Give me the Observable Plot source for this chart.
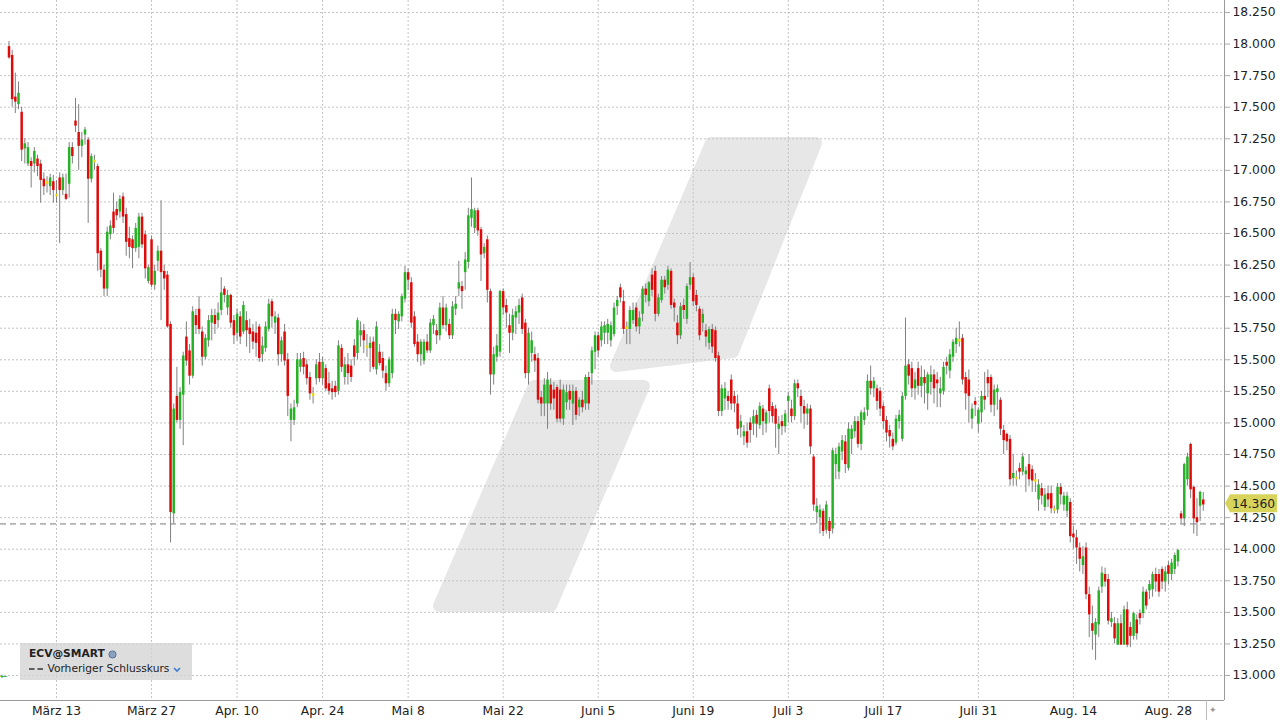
<!DOCTYPE html>
<html><head><meta charset="utf-8">
<script src="https://cdn.jsdelivr.net/npm/d3@7"></script>
<script src="https://cdn.jsdelivr.net/npm/@observablehq/plot@0.6"></script>
<style>
html,body{margin:0;padding:0;background:#fff;}
#wrap{position:relative;width:1280px;height:720px;overflow:hidden;font-family:"DejaVu Sans",Verdana,sans-serif;}
#legend{position:absolute;left:20px;top:643px;width:172px;height:37px;background:rgba(212,212,212,0.78);color:#222;font-size:10.7px;}
#legend .l1{position:absolute;left:9px;top:4px;font-weight:bold;white-space:nowrap;}
#legend .l2{position:absolute;left:9px;top:19px;white-space:nowrap;}
#legend svg{vertical-align:middle;}
.glyph{position:absolute;font-size:9px;}
</style></head><body><div id="wrap"></div>
<script>
// candle index 0 = first bar (3 bars per trading day, Mar 6 2023 .. Sep 1 2023)
const open = [
 17.97,17.90,17.57,17.53,17.45,17.18,17.06,17.06,17.06,17.08,17.04,16.92,16.90,16.88,16.90,
 16.80,16.93,16.85,16.80,16.90,17.17,17.38,17.29,17.20,17.29,17.23,16.94,17.07,17.02,16.35,16.20,16.07,16.50,16.66,16.68,16.68,16.78,16.64,16.45,16.44,16.39,16.40,16.62,16.48,16.13,
 16.44,16.10,16.29,16.35,16.19,16.16,15.77,14.29,15.20,15.03,15.23,15.67,15.56,15.38,15.84,15.89,15.71,15.53,15.66,15.80,15.84,15.82,15.90,16.05,15.92,16.00,15.80,
 15.72,15.83,15.73,15.80,15.74,15.71,15.70,15.75,15.55,15.60,15.75,15.95,15.80,15.82,15.55,15.71,15.49,15.03,15.03,15.16,15.45,15.50,15.45,15.35,15.22,15.36,15.47,
 15.36,15.42,15.30,15.26,15.28,15.26,15.58,15.37,15.45,15.44,15.60,15.56,15.70,15.72,15.60,15.60,15.63,15.43,15.55,15.50,15.38,15.32,15.40,15.85,15.81,15.85,15.99,
 16.18,16.10,15.83,15.63,15.55,15.50,15.63,15.58,15.78,15.72,15.70,15.90,15.78,15.77,15.70,15.91,16.07,16.07,16.20,16.28,16.63,16.55,16.67,16.52,16.35,16.44,16.03,15.39,15.53,15.57,
 16.03,15.92,15.76,15.72,15.84,15.88,15.98,15.78,15.40,15.56,15.53,15.50,15.19,15.16,15.16,15.29,15.25,15.27,15.25,15.04,15.17,15.24,15.16,15.24,15.13,15.17,15.16,15.35,15.40,15.57,
 15.68,15.66,15.72,15.72,15.66,15.71,15.93,16.06,15.95,15.75,15.75,15.82,15.90,15.77,15.87,16.05,15.97,16.16,16.19,15.87,15.98,16.12,16.10,16.19,15.94,15.78,15.70,15.92,15.83,16.10,
 16.14,16.00,15.89,15.80,15.72,15.64,15.73,15.72,15.52,15.10,15.20,15.20,15.33,15.20,15.14,14.97,14.90,14.92,14.99,15.00,15.05,14.99,15.10,15.00,15.26,15.12,15.10,14.96,15.00,14.98,
 15.18,15.10,15.06,15.30,15.20,15.12,15.08,15.10,14.72,14.30,14.26,14.29,14.16,14.21,14.17,14.68,14.62,14.78,14.84,14.65,14.88,14.94,15.00,14.84,15.03,15.11,15.32,15.28,15.26,15.24,
 15.12,15.01,14.93,14.86,14.85,15.02,14.88,15.22,15.45,15.42,15.28,15.42,15.30,15.35,15.24,15.33,15.37,15.33,15.24,15.26,15.47,15.42,15.53,15.63,15.65,15.66,15.35,15.33,15.04,
 15.16,15.00,15.09,15.20,15.35,15.35,15.15,15.25,15.17,14.93,14.90,14.86,14.57,14.56,14.63,14.62,14.60,14.66,14.62,14.54,14.40,14.47,14.34,14.43,14.43,14.31,14.32,14.48,14.36,14.31,
 14.36,14.11,14.08,14.00,13.88,14.00,13.63,13.40,13.33,13.41,13.71,13.79,13.75,13.43,13.40,13.25,13.40,13.25,13.51,13.37,13.32,13.43,13.48,13.50,13.65,13.68,13.69,13.79,13.79,13.83,
 13.75,13.86,13.81,13.85,13.91,14.27,14.25,14.56,14.82,14.48,14.24,14.35,14.38
];
const high = [
 18.02,17.95,17.77,17.70,17.50,17.25,17.22,17.10,17.18,17.12,17.08,16.98,16.95,16.97,16.96,
 16.92,16.98,16.97,16.97,17.22,17.22,17.57,17.52,17.30,17.34,17.26,17.13,17.12,17.05,16.38,16.25,16.55,16.60,16.82,16.75,16.80,16.82,16.70,16.55,16.48,16.58,16.66,16.66,16.52,16.25,
 16.48,16.25,16.40,16.76,16.25,16.20,15.80,15.15,15.44,15.28,15.56,15.80,15.62,15.92,15.90,16.00,15.76,15.70,15.85,15.90,15.90,15.95,16.15,16.08,16.05,16.02,15.85,
 15.90,15.88,15.96,15.88,15.82,15.78,15.80,15.78,15.68,15.80,15.98,15.98,15.88,15.86,15.68,15.78,15.55,15.15,15.18,15.55,15.55,15.56,15.50,15.40,15.28,15.50,15.55,
 15.52,15.46,15.40,15.33,15.33,15.65,15.62,15.52,15.55,15.50,15.66,15.83,15.80,15.78,15.70,15.68,15.68,15.80,15.62,15.56,15.45,15.52,15.90,15.90,15.88,16.02,16.24,
 16.22,16.15,15.88,15.70,15.66,15.66,15.70,15.82,15.85,15.78,15.95,16.00,15.94,15.82,15.96,16.00,16.28,16.12,16.35,16.70,16.94,16.70,16.70,16.55,16.42,16.48,16.06,15.60,15.70,16.05,
 16.06,15.98,15.86,15.90,15.92,15.98,16.02,15.82,15.75,15.72,15.60,15.55,15.25,15.35,15.40,15.35,15.32,15.30,15.34,15.30,15.30,15.30,15.30,15.28,15.20,15.25,15.38,15.40,15.60,15.72,
 15.72,15.80,15.80,15.82,15.80,15.95,16.00,16.10,16.05,15.80,15.92,15.95,15.95,15.88,16.08,16.10,16.12,16.22,16.24,16.02,16.16,16.16,16.24,16.22,15.98,15.85,15.95,15.98,16.10,16.27,
 16.18,16.05,15.92,15.90,15.78,15.76,15.78,15.76,15.56,15.30,15.32,15.25,15.38,15.25,15.22,15.06,14.98,15.00,15.04,15.10,15.10,15.16,15.14,15.10,15.30,15.16,15.14,15.05,15.06,15.10,
 15.24,15.18,15.34,15.34,15.26,15.18,15.15,15.14,14.75,14.40,14.35,14.32,14.38,14.25,14.80,14.80,14.84,14.90,14.90,15.00,14.98,15.05,15.05,15.10,15.12,15.38,15.45,15.36,15.30,15.28,
 15.16,15.05,14.98,14.92,15.06,15.10,15.24,15.83,15.50,15.48,15.40,15.48,15.45,15.42,15.40,15.45,15.42,15.40,15.36,15.48,15.52,15.58,15.66,15.75,15.80,15.70,15.40,15.42,15.15,
 15.20,15.12,15.25,15.40,15.42,15.38,15.30,15.30,15.20,14.98,14.92,14.90,14.75,14.62,14.68,14.76,14.65,14.75,14.66,14.60,14.55,14.52,14.48,14.50,14.50,14.34,14.52,14.52,14.45,14.45,
 14.40,14.18,14.15,14.05,14.02,14.05,13.70,13.55,13.45,13.70,13.86,13.85,13.80,13.50,13.46,13.45,13.48,13.55,13.58,13.42,13.50,13.48,13.52,13.70,13.68,13.75,13.82,13.85,13.84,13.86,
 13.86,13.90,13.92,13.97,14.00,14.30,14.68,14.76,14.84,14.50,14.40,14.46,14.45
];
const low = [
 17.88,17.50,17.45,17.48,17.07,17.05,17.03,16.86,16.98,16.95,16.74,16.80,16.82,16.80,16.74,
 16.74,16.42,16.80,16.76,16.78,17.05,17.30,17.00,17.10,17.20,16.58,16.90,17.00,16.20,16.15,16.00,16.00,16.45,16.50,16.60,16.62,16.58,16.32,16.30,16.22,16.35,16.30,16.38,16.14,16.10,
 16.07,16.05,16.20,15.81,16.05,15.75,14.05,14.20,15.00,14.95,14.82,15.45,15.30,15.35,15.70,15.70,15.45,15.50,15.60,15.65,15.70,15.75,15.85,15.95,15.85,15.75,15.62,
 15.65,15.62,15.70,15.60,15.55,15.58,15.52,15.48,15.48,15.56,15.72,15.75,15.70,15.45,15.48,15.45,15.05,14.85,14.98,15.12,15.40,15.38,15.30,15.18,15.15,15.30,15.32,
 15.30,15.25,15.22,15.18,15.20,15.22,15.40,15.30,15.30,15.32,15.45,15.50,15.60,15.55,15.52,15.40,15.42,15.38,15.45,15.35,15.25,15.28,15.35,15.70,15.74,15.80,15.95,
 16.05,15.75,15.60,15.48,15.45,15.46,15.55,15.55,15.70,15.62,15.65,15.74,15.72,15.66,15.66,15.85,16.00,15.90,16.05,16.22,16.55,16.50,16.48,16.12,16.30,15.95,15.22,15.30,15.48,15.52,
 15.85,15.75,15.55,15.65,15.70,15.78,15.70,15.35,15.30,15.48,15.40,15.15,15.05,15.05,14.95,15.10,15.10,15.00,15.00,14.98,15.10,15.10,14.98,15.02,15.05,15.08,15.10,15.10,15.30,15.42,
 15.52,15.60,15.62,15.62,15.60,15.68,15.85,15.95,15.70,15.62,15.62,15.78,15.72,15.70,15.80,15.95,15.92,16.00,15.80,15.84,15.95,16.02,16.05,15.90,15.80,15.62,15.66,15.82,15.78,16.05,
 15.92,15.88,15.65,15.72,15.60,15.58,15.55,15.48,15.05,15.05,15.10,15.10,15.10,15.08,14.90,14.88,14.82,14.80,14.84,14.90,14.88,14.95,14.90,14.92,15.00,15.00,14.80,14.75,14.90,14.92,
 15.00,15.00,15.02,15.20,15.00,14.95,14.98,14.75,14.30,14.20,14.12,14.10,14.12,14.08,14.12,14.55,14.55,14.70,14.60,14.62,14.75,14.88,14.80,14.78,14.98,15.05,15.22,15.20,15.10,15.05,
 14.95,14.85,14.80,14.78,14.82,14.95,14.85,15.18,15.30,15.20,15.18,15.22,15.20,15.15,15.10,15.22,15.15,15.12,15.12,15.22,15.38,15.35,15.48,15.55,15.60,15.30,15.10,15.00,14.95,
 15.05,14.92,15.00,15.10,15.20,15.08,15.05,15.10,14.90,14.75,14.78,14.50,14.50,14.50,14.55,14.58,14.45,14.50,14.45,14.45,14.30,14.35,14.30,14.33,14.28,14.28,14.28,14.35,14.30,14.25,
 14.05,14.00,13.88,13.82,13.80,13.60,13.30,13.20,13.12,13.30,13.65,13.70,13.40,13.38,13.25,13.24,13.24,13.24,13.22,13.22,13.28,13.28,13.40,13.45,13.52,13.60,13.62,13.66,13.62,13.68,
 13.66,13.72,13.75,13.80,13.86,14.20,14.18,14.50,14.40,14.12,14.10,14.22,14.30
];
const close = [
 17.90,17.57,17.55,17.60,17.17,17.20,17.17,17.04,17.14,17.04,16.93,16.88,16.90,16.93,16.85,
 16.80,16.85,16.93,16.78,17.17,17.12,17.36,17.20,17.23,17.31,16.94,17.10,17.07,16.35,16.22,16.07,16.50,16.55,16.55,16.65,16.76,16.64,16.44,16.40,16.39,16.53,16.62,16.42,16.23,16.22,
 16.10,16.19,16.35,16.20,16.15,15.77,14.30,15.10,15.03,15.23,15.52,15.50,15.38,15.87,15.78,15.75,15.53,15.66,15.80,15.84,15.79,15.86,16.02,16.02,16.00,15.80,15.70,
 15.85,15.69,15.92,15.74,15.71,15.65,15.64,15.52,15.60,15.75,15.93,15.85,15.83,15.55,15.64,15.50,15.22,15.10,15.11,15.49,15.49,15.45,15.36,15.24,15.22,15.45,15.36,
 15.47,15.28,15.26,15.25,15.25,15.60,15.45,15.45,15.40,15.37,15.53,15.80,15.72,15.66,15.60,15.62,15.45,15.75,15.48,15.42,15.32,15.49,15.85,15.82,15.85,15.99,16.18,
 16.14,15.80,15.63,15.55,15.63,15.63,15.58,15.78,15.81,15.70,15.90,15.78,15.90,15.70,15.91,15.93,16.10,16.05,16.28,16.63,16.68,16.67,16.53,16.34,16.38,16.06,15.39,15.53,15.60,16.03,
 15.92,15.88,15.72,15.84,15.87,15.92,15.75,15.40,15.70,15.64,15.50,15.19,15.16,15.29,15.33,15.16,15.20,15.04,15.04,15.25,15.23,15.19,15.24,15.07,15.17,15.13,15.35,15.16,15.56,15.68,
 15.58,15.75,15.76,15.77,15.76,15.90,15.96,16.00,15.75,15.75,15.88,15.88,15.77,15.82,16.05,16.02,16.10,16.06,15.87,15.98,16.12,16.08,16.20,15.94,15.92,15.70,15.91,15.90,16.07,16.14,
 15.97,15.94,15.70,15.85,15.69,15.73,15.61,15.52,15.10,15.26,15.26,15.18,15.16,15.16,14.96,15.00,14.92,14.85,14.95,15.04,15.00,15.12,15.02,15.07,15.10,15.06,15.00,14.98,14.98,15.06,
 15.20,15.06,15.30,15.28,15.14,15.08,15.10,14.82,14.36,14.33,14.30,14.15,14.34,14.15,14.77,14.74,14.80,14.85,14.68,14.94,14.94,15.00,14.84,15.07,15.07,15.32,15.28,15.32,15.18,15.12,
 15.02,14.93,14.90,14.82,15.02,15.05,15.20,15.44,15.38,15.28,15.33,15.30,15.35,15.32,15.37,15.37,15.28,15.32,15.26,15.43,15.46,15.53,15.63,15.66,15.65,15.35,15.24,15.22,15.10,
 15.15,15.09,15.20,15.19,15.32,15.15,15.25,15.26,14.96,14.87,14.86,14.56,14.59,14.56,14.62,14.72,14.61,14.56,14.55,14.54,14.50,14.43,14.42,14.40,14.33,14.31,14.48,14.44,14.41,14.41,
 14.11,14.10,14.02,13.93,13.93,13.65,13.49,13.36,13.41,13.66,13.80,13.75,13.44,13.44,13.30,13.40,13.25,13.51,13.25,13.32,13.48,13.34,13.46,13.65,13.56,13.71,13.79,13.75,13.67,13.75,
 13.81,13.81,13.88,13.94,13.98,14.25,14.66,14.72,14.48,14.25,14.22,14.44,14.36
];
// x-axis labels at candle index of the labelled trading day
const tickIndex = [15, 45, 72, 99, 126, 156, 186, 216, 246, 276, 306, 336, 366];
const tickLabels = ["März 13", "März 27", "Apr. 10", "Apr. 24", "Mai 8", "Mai 22", "Juni 5", "Juni 19", "Juli 3", "Juli 17", "Juli 31", "Aug. 14", "Aug. 28"];
const yTicks = [13.0, 13.25, 13.5, 13.75, 14.0, 14.25, 14.5, 14.75, 15.0, 15.25, 15.5, 15.75, 16.0, 16.25, 16.5, 16.75, 17.0, 17.25, 17.5, 17.75, 18.0, 18.25];
const prevClose = [14.20];
const lastPrice = 14.36;

const candles = close.map((c, i) => ({i, o: open[i], h: high[i], l: low[i], c}));
const RED = "#e10a0a", GREEN = "#26b126", DOJI = "#f0dc00";
const bodyColor = d => d.c > d.o ? GREEN : d.c < d.o ? RED : DOJI;

const XMIN = -2.68, XMAX = 383.7;

function watermark() {
  const g = d3.create("svg:g");
  const s = "#e7e7e7";
  g.append("path")
    .attr("d", "M711,143 L816,143 L733,352 L616,366 Z")
    .attr("fill", s).attr("stroke", s).attr("stroke-width", 12).attr("stroke-linejoin", "round");
  g.append("path")
    .attr("d", "M534,386 L644,386 L551,606 L439,606 Z")
    .attr("fill", s).attr("stroke", s).attr("stroke-width", 12).attr("stroke-linejoin", "round");
  return g.node();
}

function priceTag(index, scales, values, dims) {
  const yy = scales.y(lastPrice);
  const x0 = dims.width - dims.marginRight;
  const g = d3.create("svg:g");
  g.append("path")
    .attr("d", `M${x0 + 1},${yy} L${x0 + 6},${yy - 9} H${x0 + 53} V${yy + 9} H${x0 + 6} Z`)
    .attr("fill", "#d8d35a");
  g.append("text").attr("x", x0 + 8).attr("y", yy).attr("dy", "0.36em")
    .attr("text-anchor", "start")
    .attr("font-size", 12.3).attr("fill", "#222").text(lastPrice.toFixed(3));
  return g.node();
}

const chart = Plot.plot({
  width: 1280, height: 720,
  marginLeft: 0, marginRight: 56, marginTop: 0, marginBottom: 20,
  style: {fontFamily: "DejaVu Sans, Verdana, sans-serif", fontSize: "12.3px", color: "#222", background: "#fff"},
  x: {domain: [XMIN, XMAX], axis: null},
  y: {domain: [12.802, 18.345], axis: null},
  marks: [
    watermark,
    Plot.ruleY(yTicks, {stroke: "#c4c4c4", strokeDasharray: "2,2"}),
    Plot.ruleX(tickIndex, {stroke: "#c4c4c4", strokeDasharray: "2,2"}),
    Plot.ruleY(prevClose, {stroke: "#7a7a7a", strokeDasharray: "6,4"}),
    Plot.ruleX(candles, {x: "i", y1: "l", y2: "h", stroke: "#808080", strokeWidth: 1}),
    Plot.ruleX(candles, {x: "i", y1: "o", y2: "c", stroke: bodyColor, strokeWidth: 2.5, strokeLinecap: "square"}),
    Plot.ruleX([XMAX], {stroke: "#9a9a9a"}),
    Plot.ruleY([12.802], {stroke: "#9a9a9a"}),
    Plot.axisY(yTicks, {anchor: "right", label: null, tickSize: 5, tickPadding: 3, tickFormat: d => d.toFixed(3), stroke: "#aaa", fill: "#222"}),
    Plot.axisX(tickIndex, {anchor: "bottom", label: null, tickSize: 0, tickPadding: 6, tickFormat: d => tickLabels[tickIndex.indexOf(d)], fill: "#222"}),
    priceTag
  ]
});

const wrap = document.getElementById("wrap");
wrap.appendChild(chart);

const legend = document.createElement("div");
legend.id = "legend";
legend.innerHTML = `<div class="l1">ECV@SMART <svg width="9" height="9"><circle cx="4.5" cy="4.5" r="3.6" fill="#8aa0bf" stroke="#5d7497" stroke-width="1"/></svg></div>
<div class="l2"><svg width="15" height="8"><line x1="0" y1="4" x2="15" y2="4" stroke="#333" stroke-width="1.6" stroke-dasharray="5.5,3"/></svg> Vorheriger Schlusskurs <svg width="8" height="8"><path d="M1,3 L4,6 L7,3" fill="none" stroke="#3a7bd5" stroke-width="1.6"/></svg></div>`;
wrap.appendChild(legend);

const g1 = document.createElement("div");
g1.className = "glyph"; g1.style.left = "0px"; g1.style.top = "671px"; g1.style.color = "#2aa52a"; g1.textContent = "←";
wrap.appendChild(g1);
const g2 = document.createElement("div");
g2.className = "glyph"; g2.style.left = "1209px"; g2.style.top = "705px"; g2.style.color = "#999"; g2.textContent = "✦";
wrap.appendChild(g2);
const sep = document.createElement("div");
sep.style.cssText = "position:absolute;left:1206px;top:700px;width:1px;height:20px;background:#bbb;";
wrap.appendChild(sep);
</script>
</body></html>
